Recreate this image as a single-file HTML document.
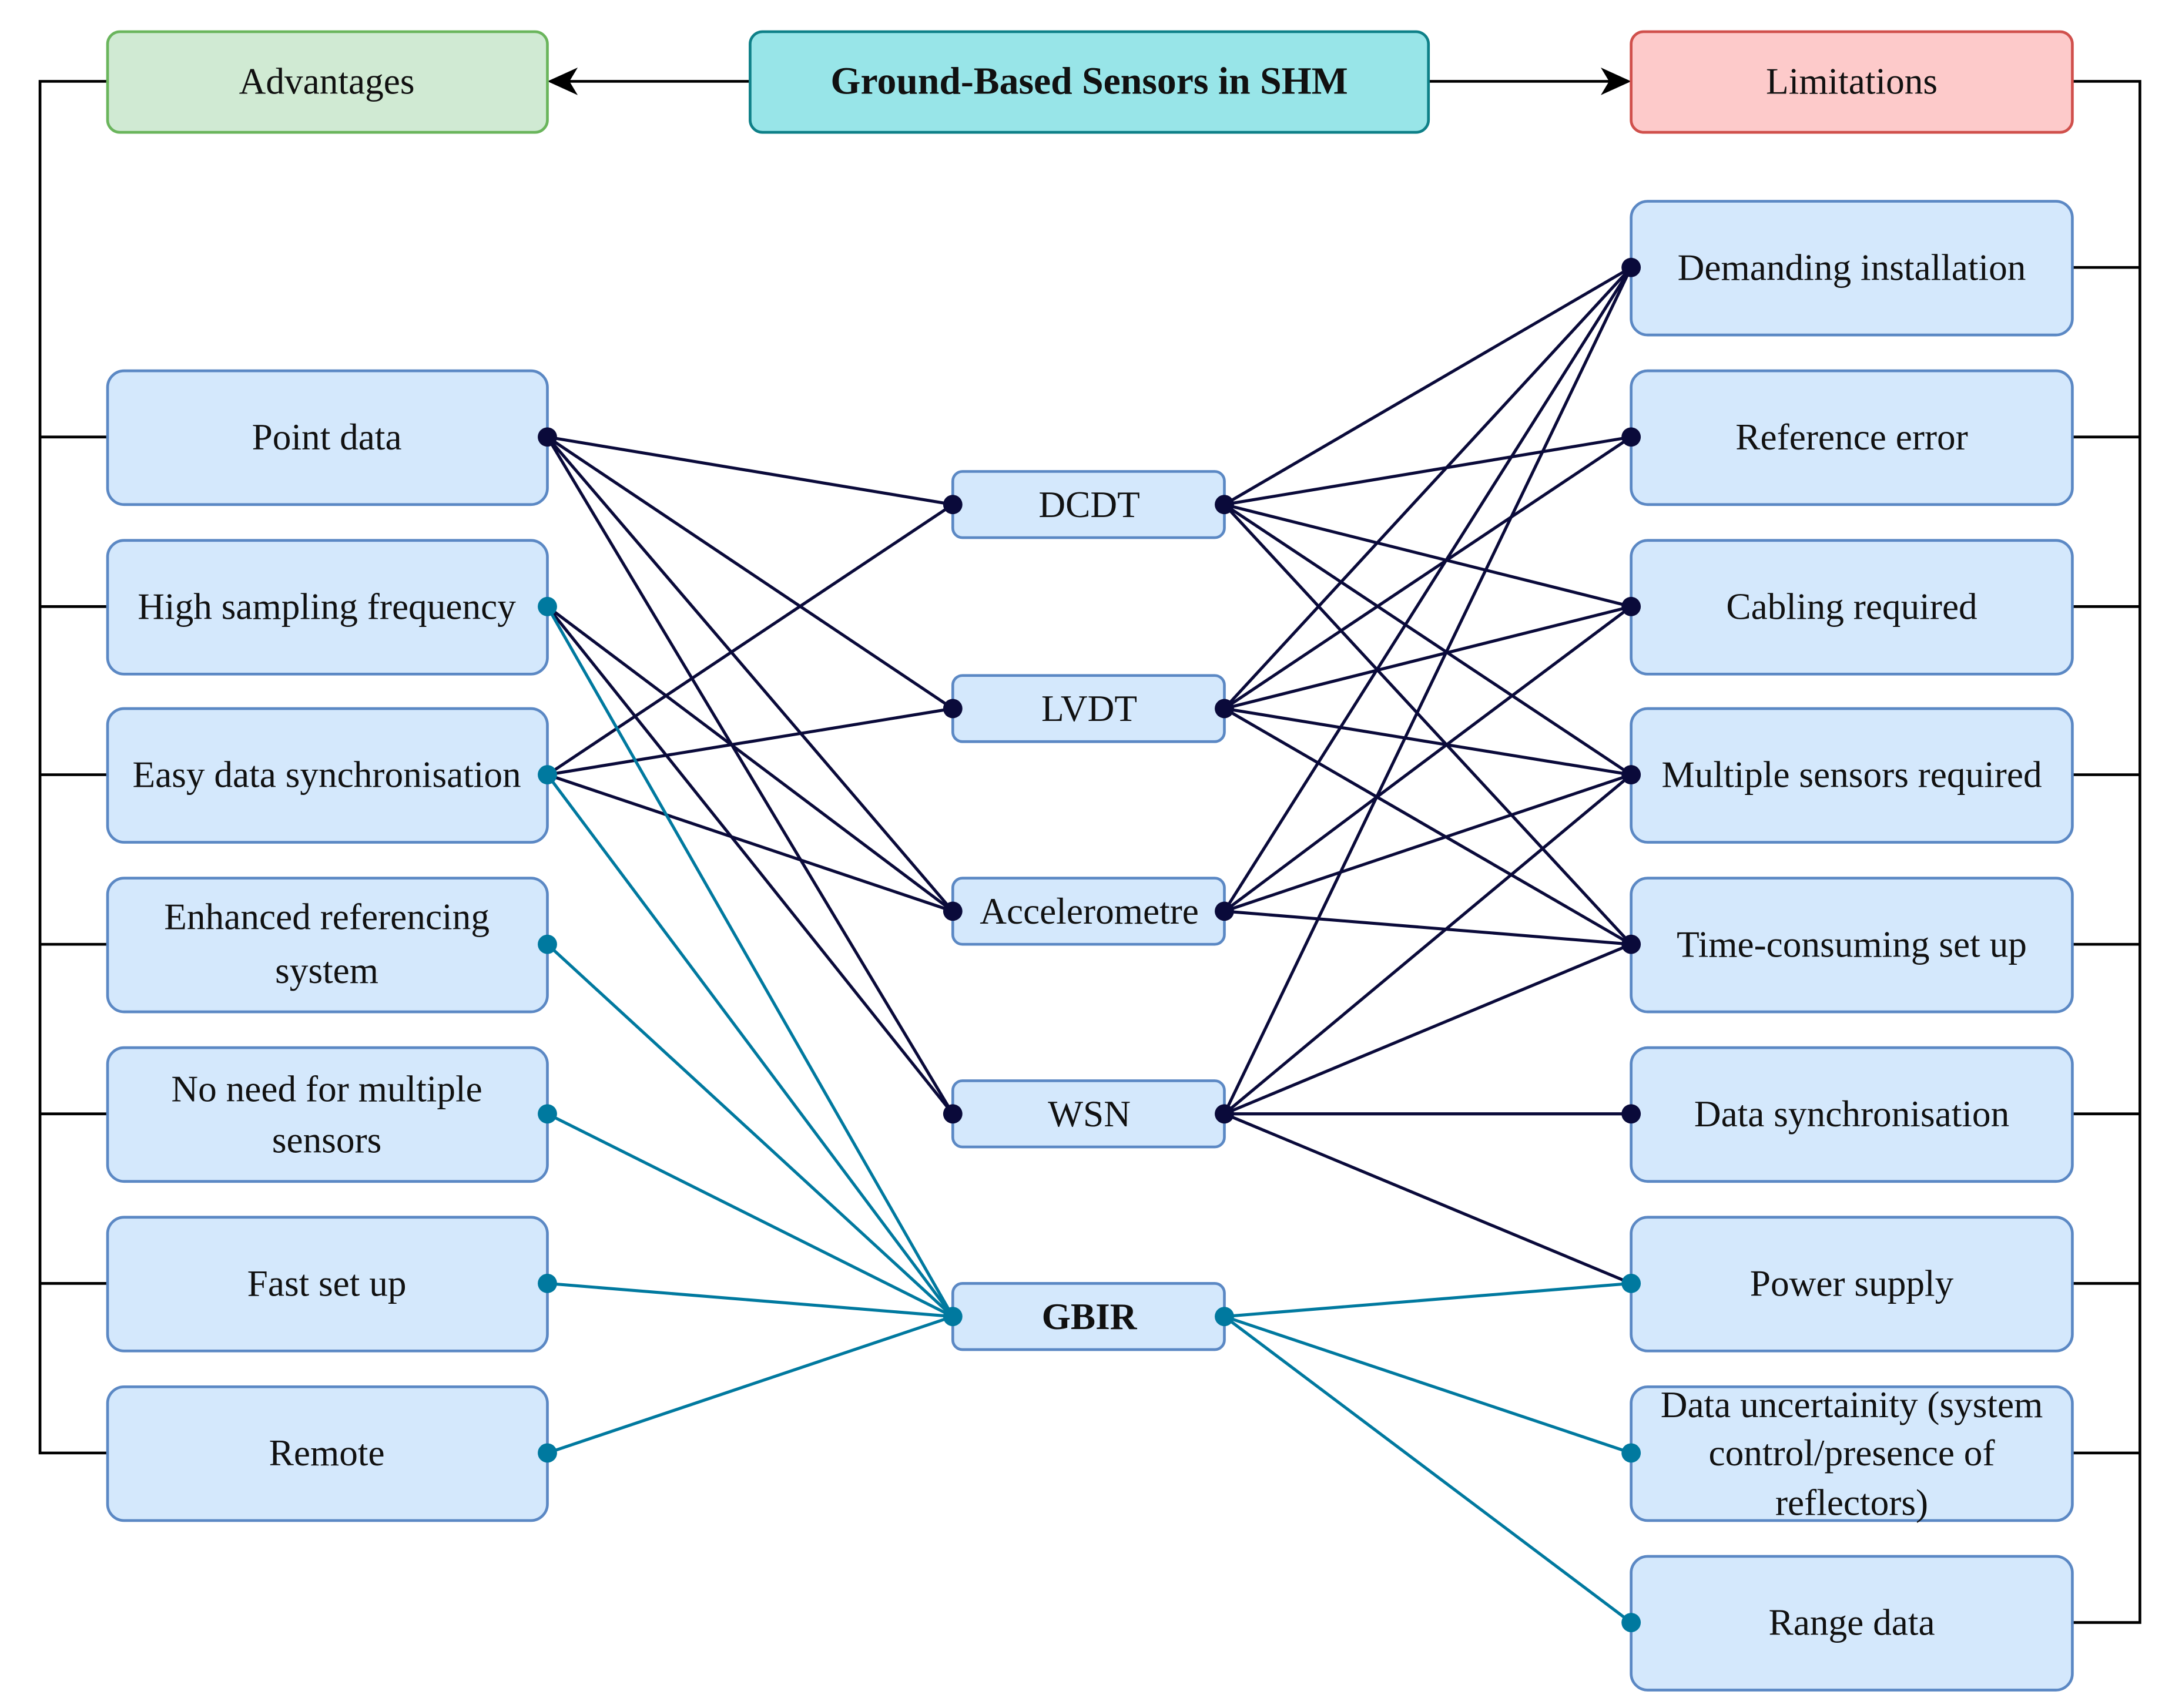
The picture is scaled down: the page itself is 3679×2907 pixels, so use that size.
<!DOCTYPE html>
<html><head><meta charset="utf-8"><style>html,body{margin:0;padding:0;background:#fff}svg{display:block}text{font-family:"Liberation Serif",serif}</style></head>
<body>
<svg width="3679" height="2907" viewBox="0 0 1568 1239" xmlns="http://www.w3.org/2000/svg" font-family="'Liberation Serif', serif" font-size="27" text-anchor="middle">
<defs>
<marker id="ar" markerWidth="22" markerHeight="20" refX="20" refY="10" orient="auto" markerUnits="userSpaceOnUse">
<path d="M0,0 L22,10 L0,20 L6,10 Z" fill="#000"/></marker>
</defs>
<g stroke="#000" stroke-width="2" fill="none">
<path d="M78,59 H29 V1054 H78 M29,317 H78 M29,440 H78 M29,562 H78 M29,685 H78 M29,808 H78 M29,931 H78"/>
<path d="M1503,59 H1552 V1177 H1503 M1552,194 H1503 M1552,317 H1503 M1552,440 H1503 M1552,562 H1503 M1552,685 H1503 M1552,808 H1503 M1552,931 H1503 M1552,1054 H1503"/>
<line x1="544" y1="59" x2="399" y2="59" marker-end="url(#ar)"/>
<line x1="1036" y1="59" x2="1181" y2="59" marker-end="url(#ar)"/>
</g>
<g stroke="#0a0a3a" stroke-width="2.2">
<line x1="397" y1="317" x2="691" y2="366"/><line x1="397" y1="317" x2="691" y2="514"/><line x1="397" y1="317" x2="691" y2="661"/><line x1="397" y1="317" x2="691" y2="808"/>
<line x1="397" y1="440" x2="691" y2="661"/><line x1="397" y1="440" x2="691" y2="808"/>
<line x1="397" y1="562" x2="691" y2="366"/><line x1="397" y1="562" x2="691" y2="514"/><line x1="397" y1="562" x2="691" y2="661"/>
<line x1="888" y1="366" x2="1183" y2="194"/><line x1="888" y1="366" x2="1183" y2="317"/><line x1="888" y1="366" x2="1183" y2="440"/><line x1="888" y1="366" x2="1183" y2="562"/><line x1="888" y1="366" x2="1183" y2="685"/>
<line x1="888" y1="514" x2="1183" y2="194"/><line x1="888" y1="514" x2="1183" y2="317"/><line x1="888" y1="514" x2="1183" y2="440"/><line x1="888" y1="514" x2="1183" y2="562"/><line x1="888" y1="514" x2="1183" y2="685"/>
<line x1="888" y1="661" x2="1183" y2="194"/><line x1="888" y1="661" x2="1183" y2="440"/><line x1="888" y1="661" x2="1183" y2="562"/><line x1="888" y1="661" x2="1183" y2="685"/>
<line x1="888" y1="808" x2="1183" y2="194"/><line x1="888" y1="808" x2="1183" y2="562"/><line x1="888" y1="808" x2="1183" y2="685"/><line x1="888" y1="808" x2="1183" y2="808"/><line x1="888" y1="808" x2="1183" y2="931"/>
</g>
<g stroke="#00799f" stroke-width="2.2">
<line x1="397" y1="440" x2="691" y2="955"/><line x1="397" y1="562" x2="691" y2="955"/><line x1="397" y1="685" x2="691" y2="955"/><line x1="397" y1="808" x2="691" y2="955"/><line x1="397" y1="931" x2="691" y2="955"/><line x1="397" y1="1054" x2="691" y2="955"/>
<line x1="888" y1="955" x2="1183" y2="931"/><line x1="888" y1="955" x2="1183" y2="1054"/><line x1="888" y1="955" x2="1183" y2="1177"/>
</g>
<g stroke-width="2">
<rect x="78" y="23" width="319" height="73" rx="9" fill="#d0ead3" stroke="#6ab55c"/>
<rect x="544" y="23" width="492" height="73" rx="9" fill="#98e5e8" stroke="#0e8088"/>
<rect x="1183" y="23" width="320" height="73" rx="9" fill="#fdcaca" stroke="#d0504c"/>
</g>
<g fill="#d4e8fc" stroke="#5b88c4" stroke-width="2">
<rect x="78" y="269" width="319" height="97" rx="12"/><rect x="78" y="392" width="319" height="97" rx="12"/><rect x="78" y="514" width="319" height="97" rx="12"/><rect x="78" y="637" width="319" height="97" rx="12"/><rect x="78" y="760" width="319" height="97" rx="12"/><rect x="78" y="883" width="319" height="97" rx="12"/><rect x="78" y="1006" width="319" height="97" rx="12"/>
<rect x="1183" y="146" width="320" height="97" rx="12"/><rect x="1183" y="269" width="320" height="97" rx="12"/><rect x="1183" y="392" width="320" height="97" rx="12"/><rect x="1183" y="514" width="320" height="97" rx="12"/><rect x="1183" y="637" width="320" height="97" rx="12"/><rect x="1183" y="760" width="320" height="97" rx="12"/><rect x="1183" y="883" width="320" height="97" rx="12"/><rect x="1183" y="1006" width="320" height="97" rx="12"/><rect x="1183" y="1129" width="320" height="97" rx="12"/>
<rect x="691" y="342" width="197" height="48" rx="7"/><rect x="691" y="490" width="197" height="48" rx="7"/><rect x="691" y="637" width="197" height="48" rx="7"/><rect x="691" y="784" width="197" height="48" rx="7"/><rect x="691" y="931" width="197" height="48" rx="7"/>
</g>
<g fill="#0a0a3a">
<circle cx="397" cy="317" r="7"/>
<circle cx="691" cy="366" r="7"/><circle cx="691" cy="514" r="7"/><circle cx="691" cy="661" r="7"/><circle cx="691" cy="808" r="7"/>
<circle cx="888" cy="366" r="7"/><circle cx="888" cy="514" r="7"/><circle cx="888" cy="661" r="7"/><circle cx="888" cy="808" r="7"/>
<circle cx="1183" cy="194" r="7"/><circle cx="1183" cy="317" r="7"/><circle cx="1183" cy="440" r="7"/><circle cx="1183" cy="562" r="7"/><circle cx="1183" cy="685" r="7"/><circle cx="1183" cy="808" r="7"/>
</g>
<g fill="#00799f">
<circle cx="397" cy="440" r="7"/><circle cx="397" cy="562" r="7"/><circle cx="397" cy="685" r="7"/><circle cx="397" cy="808" r="7"/><circle cx="397" cy="931" r="7"/><circle cx="397" cy="1054" r="7"/>
<circle cx="691" cy="955" r="7"/><circle cx="888" cy="955" r="7"/>
<circle cx="1183" cy="931" r="7"/><circle cx="1183" cy="1054" r="7"/><circle cx="1183" cy="1177" r="7"/>
</g>
<g fill="#111">
<text x="237" y="68">Advantages</text>
<text x="790" y="68" font-weight="bold" font-size="28">Ground-Based Sensors in SHM</text>
<text x="1343" y="68">Limitations</text>
<text x="237" y="326">Point data</text>
<text x="237" y="449">High sampling frequency</text>
<text x="237" y="571">Easy data synchronisation</text>
<text x="237" y="674">Enhanced referencing</text><text x="237" y="713">system</text>
<text x="237" y="799">No need for multiple</text><text x="237" y="836">sensors</text>
<text x="237" y="940">Fast set up</text>
<text x="237" y="1063">Remote</text>
<text x="790" y="375">DCDT</text><text x="790" y="523">LVDT</text><text x="790" y="670">Accelerometre</text><text x="790" y="817">WSN</text>
<text x="790" y="964" font-weight="bold">GBIR</text>
<text x="1343" y="203">Demanding installation</text>
<text x="1343" y="326">Reference error</text>
<text x="1343" y="449">Cabling required</text>
<text x="1343" y="571">Multiple sensors required</text>
<text x="1343" y="694">Time-consuming set up</text>
<text x="1343" y="817">Data synchronisation</text>
<text x="1343" y="940">Power supply</text>
<text x="1343" y="1028">Data uncertainity (system</text><text x="1343" y="1063">control/presence of</text><text x="1343" y="1099">reflectors)</text>
<text x="1343" y="1186">Range data</text>
</g>
</svg>
</body></html>
